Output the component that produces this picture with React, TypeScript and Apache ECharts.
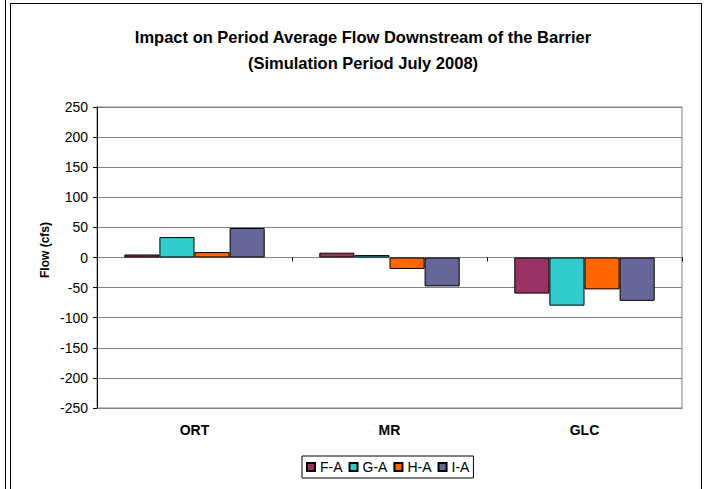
import React, { useEffect, useRef } from "react";
import * as echarts from "echarts";

const categories = ["ORT", "MR", "GLC"];
const seriesNames = ["F-A", "G-A", "H-A", "I-A"];
const fa = [5, 8, -60];
const ga = [34, 4, -80];
const ha = [9, -19, -53];
const ia = [49, -48, -72];
const colors = ["#993366", "#33CCCC", "#FF6600", "#666699"];
const yTicks = { min: -250, max: 250, step: 50 };

export default function App() {
  const ref = useRef<HTMLDivElement>(null);
  useEffect(() => {
    const chart = echarts.init(ref.current!, null, { renderer: "svg" });
    const values = [fa, ga, ha, ia];
    const font = "Arial, 'Liberation Sans', sans-serif";
    chart.setOption({
      animation: false,
      backgroundColor: "#ffffff",
      title: {
        text: "Impact on Period Average Flow Downstream of the Barrier\n(Simulation Period July 2008)",
        left: 358,
        textAlign: "center",
        top: 19,
        textStyle: {
          fontFamily: font,
          fontSize: 16.5,
          fontWeight: "bold",
          color: "#000",
          lineHeight: 26,
        },
      },
      grid: { left: 97, right: 25, top: 107, bottom: 81, show: true, borderColor: "#808080", borderWidth: 1 },
      legend: {
        data: seriesNames,
        left: 302,
        top: 456,
        itemWidth: 8,
        itemHeight: 8,
        itemGap: 6,
        padding: [4, 4, 4, 4],
        borderColor: "#000",
        borderWidth: 1,
        icon: "rect",
        textStyle: { fontFamily: font, fontSize: 14, color: "#000" },
      },
      xAxis: [
        {
          type: "category",
          data: categories,
          position: "bottom",
          axisLine: { onZero: false, lineStyle: { color: "#808080" } },
          axisTick: { show: false },
          axisLabel: { fontFamily: font, fontSize: 14, fontWeight: "bold", color: "#000", margin: 15 },
        },
        {
          type: "category",
          data: categories,
          position: "bottom",
          axisLine: { onZero: true, lineStyle: { color: "#808080" } },
          axisTick: { show: true, length: 4, lineStyle: { color: "#000" } },
          axisLabel: { show: false },
        },
      ],
      yAxis: {
        type: "value",
        min: yTicks.min,
        max: yTicks.max,
        interval: yTicks.step,
        axisLine: { show: true, lineStyle: { color: "#000" } },
        axisTick: { show: true, length: 4, lineStyle: { color: "#000" } },
        axisLabel: { fontFamily: font, fontSize: 14, color: "#000", margin: 9 },
        splitLine: { lineStyle: { color: "#808080" } },
      },
      series: seriesNames.map((name, i) => ({
        name,
        type: "bar",
        xAxisIndex: 0,
        data: values[i],
        barGap: "0%",
        barCategoryGap: "28%",
        itemStyle: { color: colors[i], borderColor: "#000", borderWidth: 1 },
      })),
      graphic: [
        {
          type: "text",
          x: 45,
          y: 250,
          rotation: Math.PI / 2,
          style: {
            text: "Flow (cfs)",
            fontFamily: font,
            fontSize: 12,
            fontWeight: "bold",
            fill: "#000",
            align: "center",
            verticalAlign: "middle",
          },
        },
        { type: "line", shape: { x1: 5.5, y1: 0, x2: 5.5, y2: 489 }, style: { stroke: "#000", lineWidth: 1 } },
        { type: "line", shape: { x1: 10.5, y1: 3, x2: 10.5, y2: 489 }, style: { stroke: "#000", lineWidth: 1 } },
        { type: "line", shape: { x1: 10.5, y1: 3.5, x2: 701.5, y2: 3.5 }, style: { stroke: "#000", lineWidth: 1 } },
        { type: "line", shape: { x1: 701.5, y1: 3, x2: 701.5, y2: 489 }, style: { stroke: "#000", lineWidth: 1 } },
      ],
    });
    return () => chart.dispose();
  }, []);
  return (
    <div
      ref={ref}
      style={{ position: "absolute", left: 0, top: 0, width: 707, height: 489 }}
    />
  );
}
